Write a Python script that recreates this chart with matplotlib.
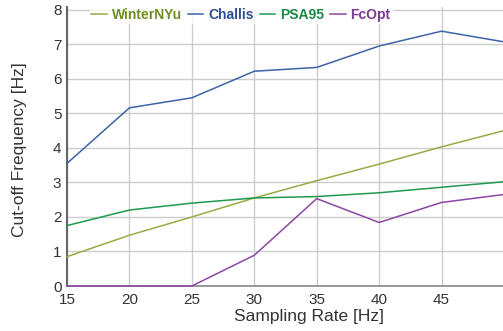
import matplotlib
matplotlib.use("Agg")
import matplotlib.pyplot as plt

rates = [15, 20, 25, 30, 35, 40, 45, 50]
winter = [0.85, 1.47, 2.0, 2.55, 3.05, 3.53, 4.03, 4.5]
challis = [3.55, 5.16, 5.45, 6.22, 6.33, 6.95, 7.38, 7.07]
psa95 = [1.75, 2.2, 2.4, 2.55, 2.59, 2.7, 2.86, 3.02]
fcopt = [0.0, 0.0, 0.0, 0.89, 2.53, 1.84, 2.42, 2.65]
series_names = ["WinterNYu", "Challis", "PSA95", "FcOpt"]
line_colors = ["#98ab45", "#3d64a6", "#1f9950", "#8c46a6"]
text_colors = ["#6f8f22", "#2d4f8f", "#1a8a45", "#7a3a96"]
xticks = [15, 20, 25, 30, 35, 40, 45]
yticks = [0, 1, 2, 3, 4, 5, 6, 7, 8]

plt.rcParams['font.family'] = ['Liberation Sans', 'DejaVu Sans']

fig = plt.figure(figsize=(5.03, 3.31), dpi=100)
ax = fig.add_axes([67/503, 1 - 286/331, 437/503, 279/331])

handles = []
for vals, name, col in zip([winter, challis, psa95, fcopt], series_names, line_colors):
    h, = ax.plot(rates, vals, color=col, lw=1.1, label=name, clip_on=False, zorder=3)
    handles.append(h)

ax.set_xlim(15, 50)
ax.set_ylim(0, 8.08)
ax.set_xticks(xticks)
ax.set_yticks(yticks)
ax.grid(True, color="#cccccc", lw=1)
ax.set_axisbelow(True)
for s in ["top", "right"]:
    ax.spines[s].set_visible(False)
ax.spines["left"].set_color("#666666")
ax.spines["left"].set_linewidth(1.5)
ax.spines["bottom"].set_color("#888888")
ax.spines["bottom"].set_linewidth(1.2)
ax.tick_params(axis="both", length=0, labelsize=11, colors="#333333")
ax.tick_params(axis="x", pad=5)
ax.tick_params(axis="y", pad=4)
fig.text(309/503, 1 - 316/331, "Sampling Rate [Hz]", fontsize=12.5, color="#333333",
         ha="center", va="center")
fig.text(20/503, 1 - 150/331, "Cut-off Frequency [Hz]", fontsize=12.5, color="#333333",
         ha="center", va="center", rotation=90)

leg = fig.legend(handles=handles, labels=series_names, ncol=4, loc="center",
                 bbox_to_anchor=(241/503, 1 - 15/331), frameon=True, fancybox=False,
                 handlelength=1.1, handletextpad=0.35, columnspacing=0.45,
                 borderpad=0.1, prop={'weight': 'bold', 'size': 10})
leg.get_frame().set_facecolor("white")
leg.get_frame().set_edgecolor("white")
for t, c in zip(leg.get_texts(), text_colors):
    t.set_color(c)

fig.savefig("out.png", dpi=100)
